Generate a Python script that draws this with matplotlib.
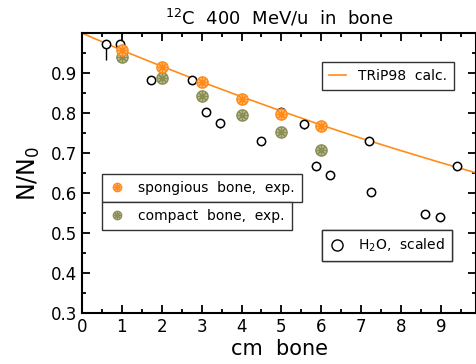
import numpy as np
import matplotlib.pyplot as plt
from matplotlib.ticker import MultipleLocator

# TRiP98 calculation
calc_x = [0.0, 1.0, 2.0, 3.0, 4.0, 5.0, 6.0, 7.0, 8.0, 9.0, 9.9]
calc_y = [1.000, 0.957, 0.917, 0.878, 0.841, 0.805, 0.770, 0.737, 0.706, 0.676, 0.650]

# spongious bone, exp.
spong_x = [1.0, 2.0, 3.0, 4.0, 5.0, 6.0]
spong_y = [0.958, 0.916, 0.877, 0.836, 0.797, 0.767]

# compact bone, exp.
comp_x = [1.0, 2.0, 3.0, 4.0, 5.0, 6.0]
comp_y = [0.941, 0.889, 0.843, 0.795, 0.752, 0.708]

# H2O, scaled
h2o_x = [0.59, 0.94, 1.72, 2.76, 3.11, 3.47, 4.48, 4.99, 5.56, 5.86, 6.22, 7.19, 7.24, 8.61, 8.97, 9.41]
h2o_y = [0.974, 0.974, 0.883, 0.883, 0.803, 0.775, 0.731, 0.803, 0.773, 0.667, 0.645, 0.731, 0.602, 0.547, 0.539, 0.667]
h2o_err = [0.040, 0.030, 0, 0, 0, 0.012, 0, 0.008, 0.012, 0, 0, 0, 0, 0, 0, 0]

orange = '#ff8c1a'
orange_fill = '#ffbf85'
olive = '#8c8f55'
olive_fill = '#c2c49c'
spokes = (8, 2, 0)

fig = plt.figure(figsize=(4.77, 3.64), dpi=100)
ax = fig.add_axes([0.172, 0.140, 0.826, 0.769])

ln, = ax.plot(calc_x, calc_y, color=orange, lw=1.2)

ax.errorbar(h2o_x, h2o_y, yerr=[h2o_err, [0] * len(h2o_err)], fmt='none',
            ecolor='black', elinewidth=1, capsize=0)
h2o, = ax.plot(h2o_x, h2o_y, 'o', ms=6, mfc='white', mec='black', mew=1.1, ls='none')

ax.plot(comp_x, comp_y, 'o', ms=8, mfc=olive_fill, mec=olive, mew=1.1, ls='none')
ax.plot(comp_x, comp_y, marker=spokes, ms=7.5, mec=olive, mew=0.9, ls='none')
ax.plot(spong_x, spong_y, 'o', ms=8, mfc=orange_fill, mec=orange, mew=1.1, ls='none')
ax.plot(spong_x, spong_y, marker=spokes, ms=7.5, mec=orange, mew=0.9, ls='none')

# legend handles
h_sp = (plt.Line2D([], [], marker='o', ms=6, mfc=orange_fill, mec=orange, ls='none'),
        plt.Line2D([], [], marker=spokes, ms=5.5, mec=orange, mew=0.8, ls='none'))
h_cp = (plt.Line2D([], [], marker='o', ms=6, mfc=olive_fill, mec=olive, ls='none'),
        plt.Line2D([], [], marker=spokes, ms=5.5, mec=olive, mew=0.8, ls='none'))
h_w = plt.Line2D([], [], marker='o', ms=8, mfc='white', mec='black', ls='none')

def box(handle, label, x, y):
    lg = ax.legend([handle], [label], loc='upper left', bbox_to_anchor=(x, y),
                   bbox_transform=fig.transFigure, fancybox=False, framealpha=1,
                   edgecolor='#333333', fontsize=10, handlelength=1.2,
                   borderpad=0.5, borderaxespad=0, handletextpad=0.9)
    lg.get_frame().set_linewidth(1.0)
    ax.add_artist(lg)

box(ln, 'TRiP98  calc.', 322 / 477, 1 - 62 / 364)
box(h_sp, 'spongious  bone,  exp.', 102 / 477, 1 - 174 / 364)
box(h_cp, 'compact  bone,  exp.', 102 / 477, 1 - 202 / 364)
box(h_w, 'H$_2$O,  scaled', 322 / 477, 1 - 230 / 364)

ax.set_xlim(0, 9.88)
ax.set_ylim(0.3, 1.0)
ax.xaxis.set_minor_locator(MultipleLocator(0.5))
ax.yaxis.set_minor_locator(MultipleLocator(0.05))
ax.set_xticks(np.arange(0, 10, 1))
ax.set_xticklabels([str(i) for i in range(10)])
ax.set_yticks(np.arange(0.3, 1.0, 0.1))
ax.set_yticklabels(['0.3', '0.4', '0.5', '0.6', '0.7', '0.8', '0.9'])
ax.tick_params(which='both', direction='in', top=True, right=True, width=1.3, labelsize=12)
ax.tick_params(which='major', length=6)
ax.tick_params(which='minor', length=3)
for s in ax.spines.values():
    s.set_linewidth(1.5)

ax.set_xlabel('cm  bone', fontsize=15, labelpad=2)
ax.set_ylabel('N/N$_0$', fontsize=17, labelpad=6)
ax.set_title('$^{12}$C  400  MeV/u  in  bone', fontsize=13, pad=6)

fig.savefig('out.png', dpi=100)
